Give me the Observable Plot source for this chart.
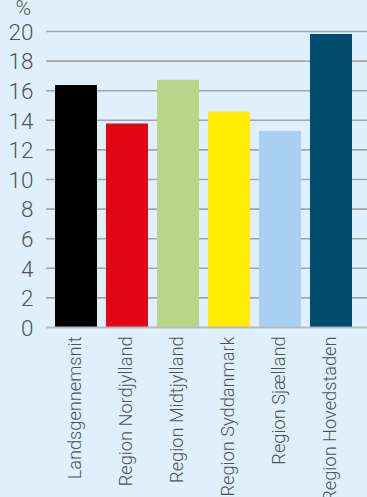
<!DOCTYPE html>
<html>
<head>
<meta charset="utf-8">
<script src="https://cdn.jsdelivr.net/npm/d3@7"></script>
<script src="https://cdn.jsdelivr.net/npm/@observablehq/plot@0.6"></script>
<style>
  html, body { margin: 0; padding: 0; background: #dff0fc; overflow: hidden; }
  #chart svg { display: block; }
</style>
</head>
<body>
<div id="chart"></div>
<script>
const categories = ["Landsgennemsnit", "Region Nordjylland", "Region Midtjylland", "Region Syddanmark", "Region Sjælland", "Region Hovedstaden"];
const values = [16.35, 13.75, 16.7, 14.55, 13.25, 19.8];
const colors = ["#000000", "#e20714", "#b9d588", "#ffec00", "#aad0f1", "#004b6e"];
const yTicks = [0, 2, 4, 6, 8, 10, 12, 14, 16, 18, 20];
const unitLabel = ["%"];

const data = categories.map((c, i) => ({category: c, value: values[i], color: colors[i]}));
const font = "Roboto, 'DejaVu Sans', sans-serif";

const chart = Plot.plot({
  width: 367,
  height: 497,
  marginTop: 31,
  marginBottom: 170,
  marginLeft: 50,
  marginRight: 10,
  style: {background: "#dff0fc", fontFamily: font},
  x: {domain: categories, paddingInner: 0.18, paddingOuter: 0.09, axis: null},
  y: {domain: [0, 20], axis: null},
  marks: [
    Plot.ruleY(yTicks.filter(d => d > 0), {stroke: "#a3a6a8", strokeWidth: 1.6, insetLeft: -4, insetRight: -10}),
    Plot.barY(data, {x: "category", y: "value", fill: "color"}),
    Plot.ruleY([0], {stroke: "#b7babc", strokeWidth: 2, insetLeft: -4, insetRight: -10}),
    Plot.text(yTicks, {y: d => d, text: d => String(d), frameAnchor: "left", lineAnchor: "middle", dx: -17, dy: 1, textAnchor: "end", fontSize: 22.5, fontWeight: 300, fill: "#4f5356"}),
    Plot.text(unitLabel, {frameAnchor: "top-left", lineAnchor: "middle", dx: -35, dy: -23, text: d => d, textAnchor: "start", fontSize: 21, fontWeight: 300, fill: "#4f5356"}),
    Plot.text(data, {x: "category", text: "category", frameAnchor: "bottom", lineAnchor: "middle", dy: 9, dx: -1, rotate: -90, textAnchor: "end", fontSize: 18.2, fontWeight: 300, fill: "#4f5356"})
  ]
});
document.getElementById("chart").appendChild(chart);
</script>
</body>
</html>
